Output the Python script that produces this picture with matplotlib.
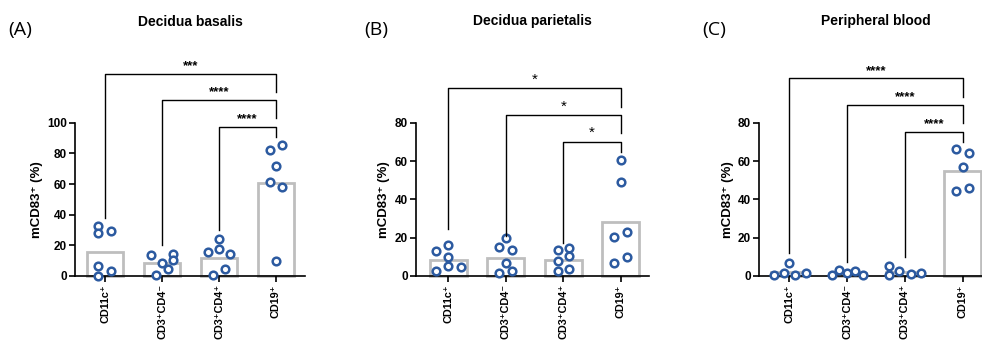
import matplotlib
matplotlib.use("Agg")
import matplotlib.pyplot as plt
import numpy as np

plt.rcParams['font.family'] = ['Liberation Sans', 'DejaVu Sans']

categories = ["CD11c⁺", "CD3⁺CD4⁻", "CD3⁺CD4⁺", "CD19⁺"]

# Panel A: Decidua basalis
a_points = [
    [32.6, 27.8, 29.6, 6.5, 0.0, 3.5],
    [13.9, 8.7, 0.9, 4.8, 14.3, 10.4],
    [15.7, 17.4, 24.3, 14.3, 0.9, 4.3],
    [82.0, 85.2, 72.0, 61.3, 58.3, 10.0],
]
a_bars = [15.7, 8.3, 12.0, 60.9]
a_sig = ["***", "****", "****"]
a_bracket_y = [131.7, 114.8, 97.4]
a_left_bottom = [37.6, 20.2, 30.0]
a_right_bottom = [120.2, 102.8, 90.9]

# Panel B: Decidua parietalis
b_points = [
    [13.2, 16.2, 10.1, 5.4, 4.9, 2.8],
    [19.8, 15.3, 13.6, 7.0, 1.7, 2.4],
    [13.6, 14.6, 8.0, 10.4, 2.4, 3.5],
    [60.3, 49.0, 20.3, 23.0, 7.0, 10.1],
]
b_bars = [8.2, 9.6, 8.2, 28.0]
b_sig = ["*", "*", "*"]
b_bracket_y = [97.9, 84.0, 70.1]
b_left_bottom = [24.3, 21.0, 17.0]
b_right_bottom = [88.3, 74.4, 64.9]

# Panel C: Peripheral blood
c_points = [
    [0.5, 1.4, 7.0, 0.5, 1.4],
    [0.3, 3.1, 1.7, 2.8, 0.3],
    [5.2, 0.3, 2.4, 1.0, 1.7],
    [66.1, 64.3, 57.0, 44.2, 45.9],
]
c_bars = [2.2, 1.6, 2.1, 54.8]
c_sig = ["****", "****", "****"]
c_bracket_y = [103.1, 89.2, 75.3]
c_left_bottom = [11.8, 7.5, 9.7]
c_right_bottom = [93.6, 79.7, 70.1]

# horizontal jitter offsets (category units)
a_offsets = [[-0.12, -0.12, 0.1, -0.12, -0.12, 0.1],
             [-0.2, 0.0, -0.1, 0.1, 0.2, 0.2],
             [-0.2, 0.0, 0.0, 0.2, -0.1, 0.1],
             [-0.1, 0.11, 0.0, -0.1, 0.11, 0.0]]
b_offsets = [[-0.21, 0.0, 0.0, 0.0, 0.22, -0.21],
             [0.0, -0.11, 0.11, 0.0, -0.11, 0.11],
             [-0.1, 0.1, -0.1, 0.1, -0.1, 0.1],
             [0.0, 0.0, -0.11, 0.11, -0.11, 0.11]]
c_offsets = [[-0.27, -0.1, 0.0, 0.1, 0.29],
             [-0.27, -0.14, 0.0, 0.14, 0.28],
             [-0.28, -0.28, -0.1, 0.1, 0.28],
             [-0.11, 0.11, 0.0, -0.11, 0.11]]

titles = ["Decidua basalis", "Decidua parietalis", "Peripheral blood"]
panel_labels = ["(A)", "(B)", "(C)"]
ylims = [100, 80, 80]
yticks = [[0, 20, 40, 60, 80, 100], [0, 20, 40, 60, 80], [0, 20, 40, 60, 80]]

W, H = 982, 340
fig = plt.figure(figsize=(W / 100, H / 100), dpi=100)

# axes geometry in pixels: left, right(spine end), xlim
geoms = [
    (75.0, 305.0, (-0.53, 3.51)),
    (416.0, 649.0, (-0.56, 3.49)),
    (759.3, 991.6, (-0.52, 3.5)),
]
ax_top_px, ax_bot_px = 122.7, 276.0

panels = [
    (a_points, a_bars, a_offsets, a_sig, a_bracket_y, a_left_bottom, a_right_bottom),
    (b_points, b_bars, b_offsets, b_sig, b_bracket_y, b_left_bottom, b_right_bottom),
    (c_points, c_bars, c_offsets, c_sig, c_bracket_y, c_left_bottom, c_right_bottom),
]
label_x_px = [8, 364, 702]
star_sizes = [9.5, 11, 9.5]

blue = "#2C5AA0"
grey = "#BEBEBE"

for i, (pts, bars, offs, sig, by, lb, rb) in enumerate(panels):
    left, right, xlim = geoms[i]
    ax = fig.add_axes([left / W, (H - ax_bot_px) / H, (right - left) / W,
                       (ax_bot_px - ax_top_px) / H])
    x = np.arange(len(categories))
    ax.bar(x, bars, width=0.64, facecolor="white", edgecolor=grey,
           linewidth=2.0, zorder=1, clip_on=False)
    for j in range(len(categories)):
        xs = x[j] + np.array(offs[j])
        ax.plot(xs, pts[j], linestyle="none", marker="o", markersize=5.5,
                markerfacecolor="white", markeredgecolor=blue,
                markeredgewidth=1.8, zorder=3, clip_on=False)
    ax.set_xlim(*xlim)
    ax.set_ylim(0, ylims[i])
    ax.set_yticks(yticks[i])
    ax.set_yticklabels([str(t) for t in yticks[i]], fontsize=8.5, fontweight="bold")
    ax.set_xticks(x)
    ax.set_xticklabels(categories, rotation=90, fontsize=7.8, fontweight="bold")
    ax.spines["top"].set_visible(False)
    ax.spines["right"].set_visible(False)
    ax.spines["left"].set_linewidth(1.2)
    ax.spines["bottom"].set_linewidth(1.2)
    ax.tick_params(axis="both", direction="out", length=4, width=1.2, pad=2)
    ax.set_ylabel("mCD83⁺ (%)", fontsize=9.5, fontweight="bold", labelpad=3)
    # significance brackets (group k vs CD19+)
    for k in range(3):
        xl, xr = x[k], x[3]
        ax.plot([xl, xl, xr, xr], [lb[k], by[k], by[k], rb[k]], color="black",
                linewidth=1.0, clip_on=False, zorder=4)
        ax.text((xl + xr) / 2, by[k] + ylims[i] * 0.01, sig[k], ha="center",
                va="bottom", fontsize=star_sizes[i],
                fontweight="bold" if i != 1 else "normal", clip_on=False)
    # title
    fig.text(((left + right) / 2) / W, 1 - 21.5 / H, titles[i], ha="center",
             va="center", fontsize=10, fontweight="bold")
    fig.text(label_x_px[i] / W, 1 - 30.5 / H, panel_labels[i], ha="left",
             va="center", fontsize=14, family=["Open Sans", "DejaVu Sans"])

fig.savefig("out.png", dpi=100)
